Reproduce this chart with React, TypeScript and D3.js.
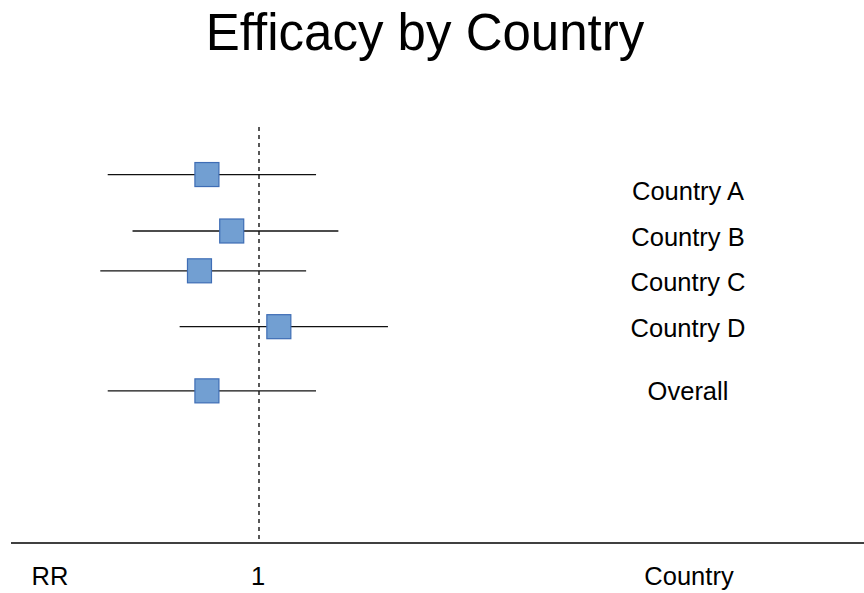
import * as d3 from "d3";

// forest plot values (relative risk, 95% CI)
const countries = ["Country A", "Country B", "Country C", "Country D", "Overall"];
const rr = [0.79, 0.89, 0.76, 1.08, 0.79];
const lower = [0.39, 0.49, 0.36, 0.68, 0.39];
const upper = [1.23, 1.32, 1.19, 1.52, 1.23];
// vertical positions of markers and of labels (value axis 0..7)
const rowPos = [6.2, 5.25, 4.58, 3.64, 2.56];
const labelPos = [5.92, 5.15, 4.39, 3.62, 2.56];
const refValue = 1;
const bottomLabels = ["RR", "1", "Country"];

export default function App() {
  const width = 864;
  const height = 593;
  const font = "'Liberation Sans', Arial, sans-serif";

  const x = d3.scaleLinear().domain([0, 2]).range([11, 507]);
  const y = d3.scaleLinear().domain([0, 7]).range([543, 127]);
  const box = 24;
  const labelX = 688;

  return (
    <svg
      width={width}
      height={height}
      style={{ position: "absolute", left: 0, top: 0, background: "#fff" }}
      fontFamily={font}
    >
      {/* title */}
      <text x={425} y={50} textAnchor="middle" fontSize="51" fill="#000">
        Efficacy by Country
      </text>

      {/* reference line */}
      <line
        x1={x(refValue)}
        x2={x(refValue)}
        y1={y(7)}
        y2={y(0)}
        stroke="#222"
        strokeWidth={1.5}
        strokeDasharray="4,4"
      />

      {/* bottom axis */}
      <line x1={11} x2={864} y1={y(0)} y2={y(0)} stroke="#000" strokeWidth={1.3} />

      {/* intervals + markers */}
      {countries.map((c, i) => (
        <g key={c}>
          <line
            x1={x(lower[i])}
            x2={x(upper[i])}
            y1={y(rowPos[i])}
            y2={y(rowPos[i])}
            stroke="#111"
            strokeWidth={1.3}
          />
          <rect
            x={x(rr[i]) - box / 2}
            y={y(rowPos[i]) - box / 2}
            width={box}
            height={box}
            fill="#729FD2"
            stroke="#3E6DB5"
            strokeWidth={1.2}
          />
          <text
            x={labelX}
            y={y(labelPos[i])}
            textAnchor="middle"
            dominantBaseline="central"
            fontSize="25.5"
            fill="#000"
          >
            {c}
          </text>
        </g>
      ))}

      {/* column headers under axis */}
      {bottomLabels.map((t, i) => (
        <text
          key={t}
          x={[50, x(refValue) - 1, 689][i]}
          y={576}
          textAnchor="middle"
          dominantBaseline="central"
          fontSize="25.5"
          fill="#000"
        >
          {t}
        </text>
      ))}
    </svg>
  );
}
